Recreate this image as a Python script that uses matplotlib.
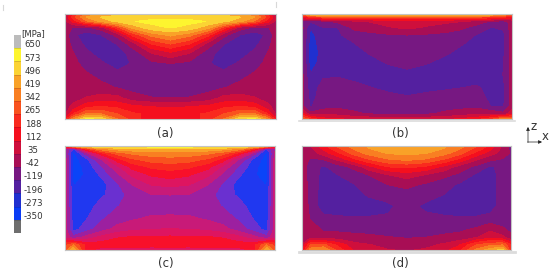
""" stress maps (a)-(d) with shared band legend """
import numpy as np
import matplotlib
matplotlib.use("Agg")
import matplotlib.pyplot as plt
from matplotlib.colors import ListedColormap

W = 550
H = 272

band_labels = [650, 573, 496, 419, 342, 265, 188, 112, 35, -42, -119, -196, -273, -350]
band_colors = ["#bcbcbc", "#fdf52f", "#fbd334", "#f9a228", "#f97f22", "#f9521e", "#f92a1e",
               "#f50f1e", "#cf0f3c", "#a80e55", "#771882", "#5420a0", "#2030d0", "#0a3cf5", "#6e6e6e"]
# panel (c) shows the same bands a bit brighter
band_colors_c = ["#bcbcbc", "#fdf52f", "#fbd334", "#f9a228", "#f97f22", "#f9521e", "#f92a1e",
                 "#f8102a", "#de1560", "#c81a78", "#9c20a0", "#6a30d0", "#2038f0", "#0a44f8", "#6e6e6e"]

x_pos = [0, .04, .1, .17, .25, .32, .41, .5, .59, .68, .75, .83, .9, .96, 1]
z_pos = [0, .03, .07, .13, .2, .28, .37, .47, .58, .7, .8, .88, .95, 1]

panel_a = [
    [-100, 150, 300, 400, 430, 440, 445, 450, 445, 440, 430, 400, 300, 150, -100],
    [0, 200, 380, 460, 490, 500, 505, 510, 505, 500, 490, 460, 380, 200, 0],
    [-20, 100, 280, 400, 480, 530, 555, 560, 555, 530, 480, 400, 280, 100, -20],
    [-42, -90, -100, -40, 200, 400, 510, 540, 510, 400, 200, -40, -100, -90, -42],
    [-42, -140, -200, -160, -50, 170, 330, 400, 330, 170, -50, -160, -200, -140, -42],
    [-42, -110, -180, -200, -150, -30, 160, 240, 160, -30, -150, -200, -180, -110, -42],
    [-42, -80, -140, -190, -190, -130, 0, 60, 0, -130, -190, -190, -140, -80, -42],
    [-42, -60, -110, -145, -195, -150, -100, -80, -100, -150, -195, -145, -110, -60, -42],
    [-42, -50, -70, -100, -130, -130, -125, -125, -125, -130, -130, -100, -70, -50, -42],
    [-42, -42, -45, -60, -85, -105, -135, -140, -135, -105, -85, -60, -45, -42, -42],
    [-42, -35, 0, 30, 20, -50, -75, -80, -75, -50, 20, 30, 0, -35, -42],
    [-42, 20, 120, 150, 130, 90, 70, 60, 70, 90, 130, 150, 120, 20, -42],
    [-20, 150, 300, 300, 220, 160, 135, 130, 135, 160, 220, 300, 300, 150, -20],
    [100, 350, 550, 520, 300, 190, 100, 60, 100, 190, 300, 520, 550, 350, 100],
]

panel_b = [
    [300, 500, 520, 520, 520, 530, 530, 530, 520, 500, 500, 500, 480, 400, 300],
    [100, 150, 220, 220, 220, 220, 220, 220, 220, 220, 220, 220, 200, 150, 100],
    [-100, -150, -100, -60, -20, 0, 20, 30, 20, 10, 0, -40, -90, -110, -50],
    [-60, -230, -160, -158, -60, -40, -10, 10, -10, -30, -60, -110, -160, -150, -40],
    [-60, -260, -190, -170, -120, -105, -90, -80, -90, -105, -125, -160, -190, -170, -40],
    [-60, -270, -200, -180, -158, -130, -110, -100, -110, -125, -150, -175, -190, -170, -40],
    [-60, -280, -210, -190, -175, -155, -125, -115, -125, -150, -170, -190, -190, -165, -40],
    [-60, -270, -200, -195, -190, -175, -155, -145, -155, -175, -185, -190, -190, -160, -40],
    [-60, -230, -170, -165, -190, -195, -180, -170, -180, -195, -195, -190, -185, -155, -40],
    [-60, -200, -130, -125, -130, -155, -175, -185, -178, -170, -160, -150, -175, -170, -40],
    [-60, -180, -125, -110, -105, -110, -135, -150, -135, -120, -115, -115, -180, -170, -40],
    [-60, -165, -110, -100, -100, -100, -103, -105, -103, -100, -100, -100, -160, -160, -40],
    [100, -60, -30, -30, -70, -85, -95, -100, -90, -70, -50, -20, -20, -60, 50],
    [300, 200, 100, 80, 60, 45, 35, 30, 40, 60, 80, 120, 200, 350, 300],
]

panel_c = [
    [200, 480, 540, 560, 570, 580, 580, 580, 580, 580, 570, 560, 540, 480, 200],
    [-100, -250, 150, 340, 410, 430, 440, 440, 440, 430, 410, 340, 150, -250, -100],
    [-60, -340, -120, 120, 260, 320, 345, 350, 345, 320, 260, 120, -120, -340, -60],
    [-42, -350, -260, -90, 120, 210, 260, 275, 260, 210, 120, -90, -260, -350, -42],
    [-42, -360, -290, -170, -20, 100, 165, 185, 165, 100, -20, -170, -290, -360, -42],
    [-42, -360, -300, -225, -100, 10, 80, 105, 80, 10, -100, -225, -300, -360, -42],
    [-42, -315, -295, -275, -165, -80, 0, 20, 0, -80, -165, -275, -295, -315, -42],
    [-42, -295, -295, -250, -195, -125, -85, -80, -85, -125, -195, -250, -295, -295, -42],
    [-42, -285, -280, -200, -160, -135, -125, -125, -125, -135, -160, -200, -280, -285, -42],
    [-42, -275, -240, -170, -120, -90, -65, -60, -65, -90, -120, -170, -240, -275, -42],
    [-42, -265, -195, -120, -50, -20, -5, 0, -5, -20, -50, -120, -195, -265, -42],
    [-20, -130, -50, 20, 70, 85, 90, 90, 90, 85, 70, 20, -50, -130, -20],
    [200, 300, 130, 110, 110, 110, 105, 100, 105, 110, 110, 110, 130, 300, 200],
    [250, 450, 100, 40, 30, 30, 30, 40, 30, 30, 30, 40, 100, 450, 250],
]

panel_d = [
    [-50, 0, 120, 240, 340, 390, 420, 430, 420, 390, 340, 240, 120, -20, -100],
    [-50, -30, 80, 200, 310, 375, 410, 420, 410, 375, 310, 200, 90, -30, -100],
    [-42, -50, 30, 130, 260, 330, 385, 400, 385, 330, 260, 130, 30, -40, -90],
    [-42, -90, -80, 10, 130, 220, 295, 320, 295, 220, 130, 10, -60, -90, -90],
    [-50, -110, -170, -120, -60, 50, 150, 170, 140, 50, -30, -100, -170, -130, -90],
    [-50, -110, -180, -160, -120, -80, -10, 30, -10, -60, -100, -170, -190, -130, -90],
    [-45, -100, -190, -190, -160, -130, -80, -60, -90, -130, -165, -180, -190, -130, -90],
    [-42, -100, -200, -200, -180, -150, -125, -110, -125, -160, -175, -190, -190, -130, -90],
    [-42, -95, -200, -210, -195, -190, -175, -125, -175, -190, -190, -190, -190, -125, -90],
    [-40, -85, -130, -140, -150, -150, -145, -130, -135, -145, -150, -150, -130, -115, -90],
    [-30, -40, -90, -100, -110, -113, -118, -120, -118, -110, -100, -70, -20, -70, -100],
    [-40, -30, -50, -40, -50, -60, -75, -85, -80, -60, -50, -10, 50, 20, -60],
    [0, 220, 250, 130, 20, 0, -25, -40, -25, 10, 60, 220, 280, 300, 150],
    [50, 350, 380, 200, 60, 20, 0, -10, 5, 50, 120, 320, 420, 480, 150],
]


def px_axes(fig, left, top, right, bottom):
    """ axes from pixel box """
    return fig.add_axes([left / W, 1 - bottom / H, (right - left) / W, (bottom - top) / H])


def draw_panel(fig, box, values, colors):
    ax = px_axes(fig, *box)
    mids = [(a + b) / 2 for a, b in zip(band_labels[::-1][:-1], band_labels[::-1][1:])]
    levels = [-2000, -388.5] + mids + [688.5]
    # bands from low to high
    ax.contourf(x_pos, z_pos, values, levels=levels, colors=colors[::-1])
    ax.set_xlim(0, 1)
    ax.set_ylim(1, 0)
    ax.set_xticks([])
    ax.set_yticks([])
    for sp in ax.spines.values():
        sp.set_color("#c4c4c4")
        sp.set_linewidth(0.8)
    return ax


def draw_legend(fig):
    ax = px_axes(fig, 14, 35, 21, 233)
    cells = np.arange(len(band_colors)).reshape(-1, 1)
    ax.pcolormesh(cells, cmap=ListedColormap(band_colors))
    ax.hlines(np.arange(1, len(band_colors)), 0, 1, color="black", alpha=0.25, lw=0.4)
    ax.set_ylim(len(band_colors), 0)
    ax.set_xticks([])
    ax.set_yticks(np.arange(len(band_labels)) + 0.68)
    ax.set_yticklabels(band_labels, fontsize=6.2, color="#333333", ha="center")
    ax.yaxis.tick_right()
    ax.tick_params(axis="y", length=0, pad=8.6)
    for sp in ax.spines.values():
        sp.set_visible(False)


def main():
    fig = plt.figure(figsize=(W / 100, H / 100), dpi=100)
    draw_panel(fig, (65, 14, 276, 119), panel_a, band_colors)
    draw_panel(fig, (302, 14, 512, 119), panel_b, band_colors)
    draw_panel(fig, (65, 146, 275, 250), panel_c, band_colors_c)
    draw_panel(fig, (302, 146, 511, 250), panel_d, band_colors)
    draw_legend(fig)

    # captions, triad and stray marks in pixel coordinates
    over = fig.add_axes([0, 0, 1, 1], facecolor="none")
    over.set_xlim(0, W)
    over.set_ylim(H, 0)
    over.axis("off")
    for name, x, y in [("(a)", 165, 133), ("(b)", 400, 133), ("(c)", 166, 264), ("(d)", 400, 264)]:
        over.text(x, y, name, fontsize=8.5, color="#333333", ha="center", va="center")
    over.text(33, 33.5, "[MPa]", fontsize=6, color="#333333", ha="center", va="center")
    over.plot([299, 515], [120.5, 120.5], color="#dcdcdc", lw=1.2)
    over.plot([299, 515], [252, 252], color="#dcdcdc", lw=2)
    over.plot([3, 3], [5, 10], color="#d8d8d8", lw=0.8)
    over.plot([276, 276], [2, 7], color="#d8d8d8", lw=0.8)
    over.annotate("", xy=(528, 127), xytext=(528, 142.5),
                  arrowprops=dict(arrowstyle="-|>,head_width=0.1,head_length=0.2", color="#222222", lw=0.5, shrinkA=0, shrinkB=0))
    over.annotate("", xy=(542, 142), xytext=(527.5, 142),
                  arrowprops=dict(arrowstyle="-|>,head_width=0.1,head_length=0.2", color="#222222", lw=0.5, shrinkA=0, shrinkB=0))
    over.text(534, 126, "z", fontsize=8.5, color="#333333", ha="center", va="center")
    over.text(545.5, 137, "x", fontsize=8.5, color="#333333", ha="center", va="center")

    fig.savefig("out.png", dpi=100)


if __name__ == "__main__":
    main()
